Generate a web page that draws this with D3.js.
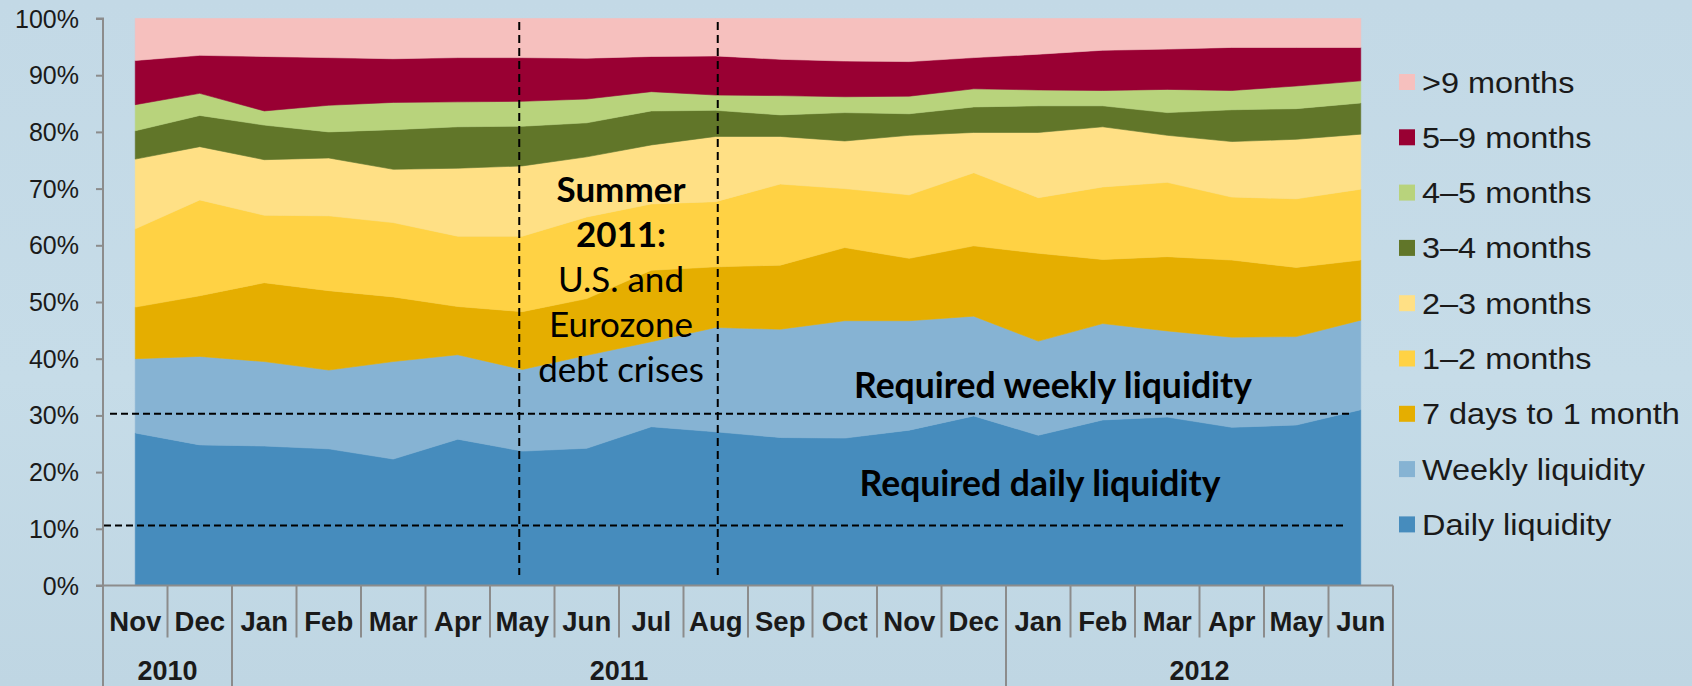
<!DOCTYPE html>
<html>
<head>
<meta charset="utf-8">
<script src="https://cdn.jsdelivr.net/npm/d3@7"></script>
<style>
  html, body { margin: 0; padding: 0; }
  body { width: 1692px; height: 686px; overflow: hidden; }
  svg { display: block; }
</style>
</head>
<body>
<svg id="chart" width="1692" height="686"></svg>
<script>
// ---------- DATA ----------
const months = ["Nov","Dec","Jan","Feb","Mar","Apr","May","Jun","Jul","Aug","Sep","Oct","Nov","Dec","Jan","Feb","Mar","Apr","May","Jun"];
const yearLabels = ["2010","2011","2012"];
const yearSpans = [2, 12, 6];

const daily       = [26.9,24.8,24.6,24.1,22.3,25.8,23.7,24.2,28.0,27.1,26.1,26.0,27.4,29.9,26.5,29.2,29.7,27.9,28.3,31.0];
const weekly      = [13.1,15.6,14.9,13.9,17.2,14.9,14.4,16.4,15.0,18.4,19.1,20.7,19.3,17.6,16.6,17.0,15.2,15.9,15.6,15.8];
const sevenDays   = [9.1,10.7,13.9,14.0,11.4,8.5,10.2,10.0,12.6,10.7,11.3,12.9,11.0,12.4,15.5,11.3,13.1,13.6,12.2,10.6];
const oneToTwo    = [13.8,16.9,11.9,13.2,13.1,12.4,13.3,14.4,11.7,11.5,14.3,10.4,11.2,12.9,9.8,12.8,13.1,11.1,12.1,12.5];
const twoToThree  = [12.3,9.4,9.8,10.2,9.4,12.0,12.4,10.6,10.4,11.5,8.4,8.4,10.5,7.1,11.5,10.6,8.3,9.8,10.5,9.7];
const threeToFour = [5.0,5.5,6.1,4.6,7.0,7.3,7.0,6.0,6.0,4.6,3.8,5.0,3.8,4.5,4.7,3.7,4.0,5.6,5.4,5.5];
const fourToFive  = [4.6,3.9,2.5,4.7,4.8,4.4,4.4,4.2,3.4,2.7,3.4,2.8,3.1,3.2,2.8,2.7,4.1,3.4,4.0,3.9];
const fiveToNine  = [7.8,6.7,9.6,8.4,7.7,7.8,7.7,7.2,6.2,6.9,6.4,6.3,6.1,5.5,6.3,7.1,7.1,7.6,6.8,5.9];
const overNine    = [7.4,6.5,6.7,6.9,7.1,6.9,6.9,7.0,6.7,6.6,7.2,7.5,7.6,6.9,6.3,5.6,5.4,5.1,5.1,5.1];

const seriesNames = ["Daily liquidity","Weekly liquidity","7 days to 1 month","1\u20132 months","2\u20133 months","3\u20134 months","4\u20135 months","5\u20139 months",">9 months"];
const seriesColors = ["#468cbd","#86b3d3","#e5ae00","#ffd244","#ffe085","#617629","#b8d37c","#990033","#f6c0be"];
const seriesValues = [daily, weekly, sevenDays, oneToTwo, twoToThree, threeToFour, fourToFive, fiveToNine, overNine];

const yTicks = [0,10,20,30,40,50,60,70,80,90,100];
const requiredLevels = [30.3, 10.6];          // required weekly / daily liquidity lines
const requiredLabels = ["Required weekly liquidity","Required daily liquidity"];
const crisisMonths = [6, 9];                  // May 2011, Aug 2011
const crisisText = [["Summer", true], ["2011:", true], ["U.S. and", false], ["Eurozone", false], ["debt crises", false]];

// ---------- TABLE ----------
const table = months.map((m, i) => {
  const row = { idx: i };
  seriesNames.forEach((s, k) => row[s] = seriesValues[k][i]);
  return row;
});

// ---------- LAYOUT ----------
const svg = d3.select("#chart");
const plotL = 103, plotR = 1393, plotT = 18.5, plotB = 585.5;

const defs = svg.append("defs");
const bg = defs.append("linearGradient").attr("id","bg").attr("x1",0).attr("y1",0).attr("x2",0).attr("y2",1);
bg.append("stop").attr("offset","0%").attr("stop-color","#c3d9e6");
bg.append("stop").attr("offset","55%").attr("stop-color","#c6dce8");
bg.append("stop").attr("offset","100%").attr("stop-color","#bfd6e3");
svg.append("rect").attr("width",1692).attr("height",686).attr("fill","url(#bg)");

const x = d3.scaleBand().domain(d3.range(months.length)).range([plotL, plotR]).padding(0);
const xc = i => x(i) + x.bandwidth() / 2;
const y = d3.scaleLinear().domain([0, 100]).range([plotB, plotT]);

// ---------- AREAS ----------
const stack = d3.stack().keys(seriesNames);
const stacked = stack(table);
const area = d3.area()
  .x(d => xc(d.data.idx))
  .y0(d => y(d[0]))
  .y1(d => y(d[1]))
  .curve(d3.curveLinear);

svg.append("g").selectAll("path").data(stacked).join("path")
  .attr("d", area)
  .attr("fill", (d, i) => seriesColors[i])
  .attr("stroke", (d, i) => seriesColors[i])
  .attr("stroke-width", 0.6);

// ---------- Y AXIS ----------
const yAxis = d3.axisLeft(y).tickValues(yTicks).tickFormat(d => d + "%").tickSize(7).tickPadding(17);
const ya = svg.append("g").attr("transform", `translate(${plotL},0)`).call(yAxis);
ya.select(".domain").attr("stroke", "#8c8c8c").attr("stroke-width", 2).attr("d", `M-7,${plotT}H0V${plotB}H-7`);
ya.selectAll(".tick line").attr("stroke", "#8c8c8c").attr("stroke-width", 2);
ya.selectAll(".tick text").attr("font-family", "'Liberation Sans', Arial, sans-serif")
  .attr("font-size", 25).attr("fill", "#1a1a1a").attr("dy", "0.34em");

// ---------- X AXIS (grouped category axis) ----------
const xa = svg.append("g");
const axisColor = "#8c8c8c";
xa.append("line").attr("x1", plotL).attr("x2", plotR).attr("y1", plotB).attr("y2", plotB)
  .attr("stroke", axisColor).attr("stroke-width", 2);
xa.selectAll("line.msep").data(d3.range(1, months.length)).join("line").attr("class","msep")
  .attr("x1", i => x(i)).attr("x2", i => x(i))
  .attr("y1", plotB).attr("y2", plotB + 52)
  .attr("stroke", axisColor).attr("stroke-width", 2);
const yearStarts = yearSpans.map((s, k) => d3.sum(yearSpans.slice(0, k)));
const yearEdges = yearStarts.concat([months.length]);
const edgeX = i => i === months.length ? plotR : x(i);
xa.selectAll("line.ysep").data(yearEdges).join("line").attr("class","ysep")
  .attr("x1", edgeX).attr("x2", edgeX)
  .attr("y1", plotB).attr("y2", 686)
  .attr("stroke", axisColor).attr("stroke-width", 2);
xa.selectAll("text.month").data(months).join("text").attr("class","month")
  .attr("x", (d, i) => xc(i)).attr("y", plotB + 45)
  .attr("text-anchor", "middle")
  .attr("font-family", "'Liberation Sans', Arial, sans-serif").attr("font-weight", "bold")
  .attr("font-size", 27.5).attr("fill", "#1a1a1a")
  .text(d => d);
xa.selectAll("text.year").data(yearLabels).join("text").attr("class","year")
  .attr("x", (d, k) => (edgeX(yearStarts[k]) + edgeX(yearStarts[k] + yearSpans[k])) / 2)
  .attr("y", 679.5)
  .attr("text-anchor", "middle")
  .attr("font-family", "'Liberation Sans', Arial, sans-serif").attr("font-weight", "bold")
  .attr("font-size", 27).attr("fill", "#1a1a1a")
  .text(d => d);

// ---------- REFERENCE LINES ----------
const ref = svg.append("g");
ref.selectAll("line.h").data(requiredLevels).join("line").attr("class","h")
  .attr("x1", (d, i) => i === 0 ? 110 : 104)
  .attr("x2", (d, i) => i === 0 ? 1350 : 1346)
  .attr("y1", d => y(d)).attr("y2", d => y(d))
  .attr("stroke", "#000").attr("stroke-width", 2).attr("stroke-dasharray", "7,4");
const vShift = [-3, 2];
ref.selectAll("line.v").data(crisisMonths).join("line").attr("class","v")
  .attr("x1", (m, j) => xc(m) + vShift[j]).attr("x2", (m, j) => xc(m) + vShift[j])
  .attr("y1", 22).attr("y2", 575)
  .attr("stroke", "#000").attr("stroke-width", 2).attr("stroke-dasharray", "8,5");

// ---------- ANNOTATIONS ----------
const calibri = "Lato, 'Open Sans', sans-serif";
const midCrisis = (xc(crisisMonths[0]) + xc(crisisMonths[1])) / 2;
svg.append("g").selectAll("text").data(crisisText).join("text")
  .attr("x", midCrisis + 2)
  .attr("y", (d, i) => 202 + i * 45)
  .attr("text-anchor", "middle")
  .attr("font-family", calibri)
  .attr("font-weight", d => d[1] ? "bold" : "normal")
  .attr("font-size", 35).attr("fill", "#000")
  .text(d => d[0]);

svg.append("g").selectAll("text").data(requiredLabels).join("text")
  .attr("x", (d, i) => i === 0 ? 1053 : 1040)
  .attr("y", (d, i) => i === 0 ? 398 : 496)
  .attr("text-anchor", "middle")
  .attr("font-family", calibri).attr("font-weight", "bold")
  .attr("font-size", 35.5).attr("fill", "#000")
  .text(d => d);

// ---------- LEGEND ----------
const legendOrder = d3.range(seriesNames.length).reverse();
const lg = svg.append("g").attr("transform", "translate(1399,0)");
const item = lg.selectAll("g").data(legendOrder).join("g")
  .attr("transform", (k, j) => `translate(0,${82 + j * 55.3})`);
item.append("rect").attr("x", 0).attr("y", -8).attr("width", 16).attr("height", 16)
  .attr("fill", k => seriesColors[k]);
item.append("text").attr("x", 0).attr("y", 0)
  .attr("transform", "translate(23,10.5) scale(1.1,1)")
  .attr("font-family", "'Liberation Sans', Arial, sans-serif")
  .attr("font-size", 29.5).attr("fill", "#1a1a1a")
  .text(k => seriesNames[k]);
</script>
</body>
</html>
